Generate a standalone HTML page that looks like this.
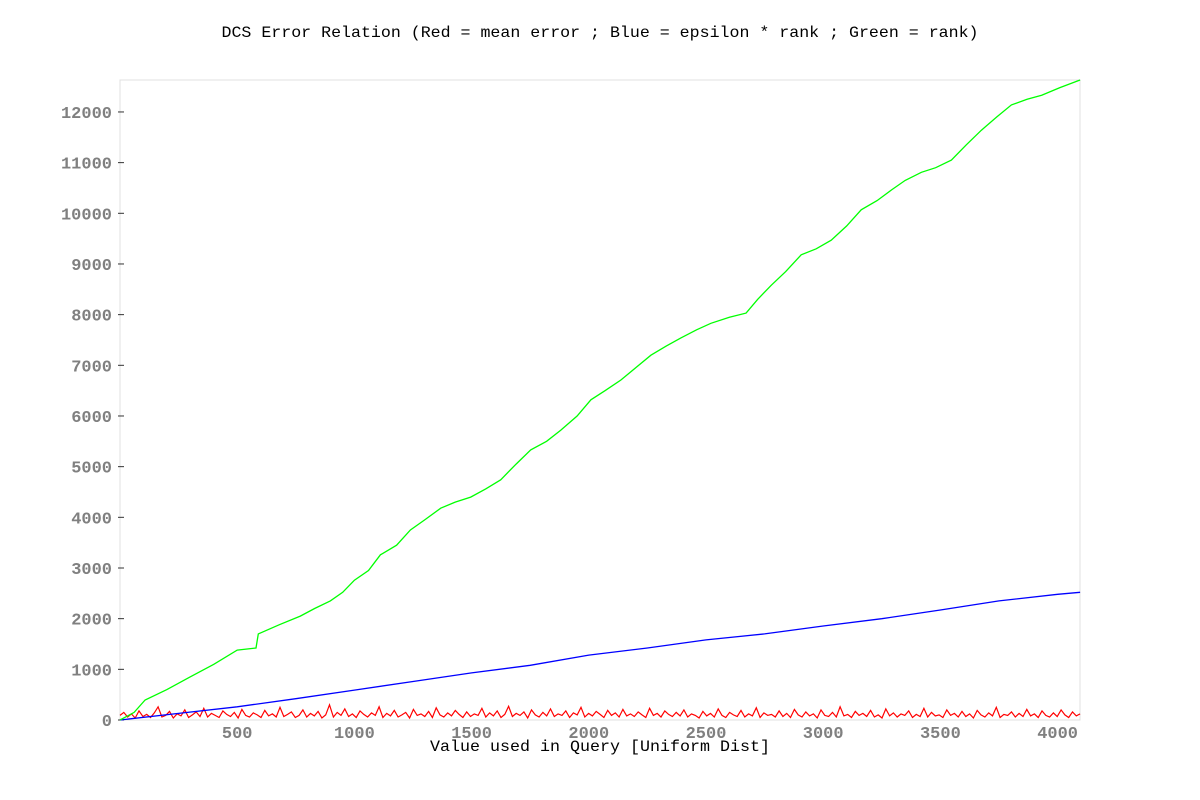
<!DOCTYPE html>
<html><head><meta charset="utf-8"><style>
body{margin:0;background:#fff;}
svg{display:block;font-family:"Liberation Mono",monospace;}
</style></head><body>
<svg id="chart" width="1200" height="800">
<text x="600" y="37" text-anchor="middle" font-size="16" textLength="757" lengthAdjust="spacingAndGlyphs" fill="#000">DCS Error Relation (Red = mean error ; Blue = epsilon * rank ; Green = rank)</text>
<text x="600" y="751" text-anchor="middle" font-size="16" textLength="340" lengthAdjust="spacingAndGlyphs" fill="#000">Value used in Query [Uniform Dist]</text>
<rect x="120" y="80" width="960" height="640" fill="none" stroke="#e0e0e0"/>
<g id="ticks"></g>
<g id="series"></g>
</svg>
<script>
const xTicks=[500,1000,1500,2000,2500,3000,3500,4000];
const yTicks=[0,1000,2000,3000,4000,5000,6000,7000,8000,9000,10000,11000,12000];
const greenX=[0,60,107,200,299,400,500,580,590,680,769,830,897,950,1000,1060,1111,1180,1239,1300,1368,1430,1496,1560,1624,1690,1752,1820,1880,1950,2009,2070,2137,2200,2265,2330,2393,2460,2521,2600,2671,2720,2778,2840,2906,2970,3034,3100,3162,3230,3291,3350,3419,3480,3547,3610,3675,3740,3803,3870,3932,4010,4096];
const greenY=[0,150,395,600,850,1100,1380,1420,1700,1880,2050,2200,2350,2520,2760,2950,3260,3450,3750,3950,4180,4300,4400,4560,4740,5050,5330,5500,5720,6000,6320,6500,6710,6950,7200,7380,7540,7700,7830,7950,8030,8300,8580,8850,9180,9300,9470,9750,10070,10250,10460,10650,10810,10900,11050,11350,11640,11900,12140,12250,12330,12480,12630];
const blueX=[0,250,500,750,1000,1250,1500,1750,2000,2250,2500,2750,3000,3250,3500,3750,4000,4096];
const blueY=[0,130,260,420,590,760,930,1080,1280,1420,1580,1700,1855,2000,2170,2350,2480,2520];
const redY=[90,150,60,120,40,180,70,110,50,140,260,60,90,170,40,120,80,200,50,100,160,70,230,60,130,90,50,180,110,70,150,40,210,90,60,140,100,50,190,80,120,60,250,70,110,160,50,90,200,60,130,80,170,40,100,300,60,150,90,220,70,120,50,180,110,60,140,90,260,50,130,80,190,60,100,150,40,210,90,120,70,170,50,240,100,60,140,80,190,110,50,160,70,120,90,230,60,140,80,180,50,110,270,70,130,90,160,40,200,100,60,150,80,220,70,120,90,180,50,140,100,250,60,130,80,170,110,50,190,90,140,60,210,80,120,70,160,100,50,230,90,130,60,180,110,70,150,80,200,60,120,90,
40,170,80,130,60,220,90,50,150,100,70,190,60,120,80,240,50,140,90,110,60,180,70,130,50,210,100,60,160,80,120,40,200,90,70,150,60,260,80,110,50,170,90,130,70,190,60,100,40,220,80,140,60,120,90,180,50,110,70,230,60,150,80,100,50,200,90,130,60,170,70,120,40,190,100,60,140,80,250,50,110,90,160,60,130,70,210,80,120,50,180,90,60,140,70,200,100,50,160,80,120];
const X=v=>120+v*0.2344, Y=v=>720-v*0.05067;
const NS="http://www.w3.org/2000/svg";
const tg=document.getElementById('ticks'), sg=document.getElementById('series');
function mk(tag,attrs,parent){const e=document.createElementNS(NS,tag);for(const k in attrs)e.setAttribute(k,attrs[k]);parent.appendChild(e);return e;}
yTicks.forEach(v=>{
 const l=mk('line',{x1:118,x2:124,y1:Y(v),y2:Y(v),stroke:'#333'},tg);
 
 
 const t=mk('text',{x:112,y:Y(v)+6,'text-anchor':'end','font-size':17,'font-weight':'bold',fill:'#808080'},tg);
 t.textContent=v;
 
 
});
xTicks.forEach(v=>{
 const t=mk('text',{x:X(v),y:738,'text-anchor':'middle','font-size':17,'font-weight':'bold',fill:'#808080'},tg);
 t.textContent=v;
 
 
});
function line(xs,ys,color,name,w){
 const p=xs.map((x,i)=>X(x).toFixed(1)+','+Y(ys[i]).toFixed(1)).join(' ');
 const e=mk('polyline',{points:p,fill:'none',stroke:color,'stroke-width':w},sg);
 
 
}
const redX=redY.map((_,i)=>i*4096/(redY.length-1));
line(redX,redY,'#ff0000','red-mean-error-line',1.2);
line(blueX,blueY,'#0000ff','blue-epsilon-rank-line',1.3);
line(greenX,greenY,'#00ff00','green-rank-line',1.3);
</script>
</body></html>
